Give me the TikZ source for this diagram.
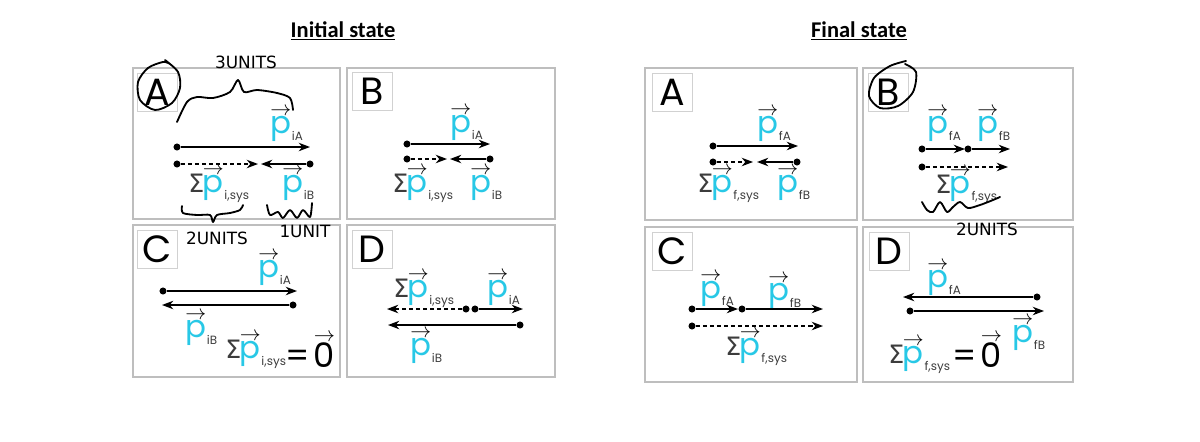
\documentclass[tikz,border=0pt]{standalone}
\usepackage{fontspec}
\usepackage{graphicx}
\usepackage{tikz}
\usetikzlibrary{arrows.meta,positioning}
\setmainfont{Poppins}
\newfontfamily\sigmafont{DejaVu Sans}
\newfontfamily\titlefont{Carlito}
\definecolor{pcyan}{RGB}{40,200,230}
\definecolor{framegray}{RGB}{190,190,190}
\definecolor{subgray}{RGB}{60,60,60}
\newsavebox\vecbox
\newcommand{\vecover}[1]{\sbox\vecbox{#1}\rlap{\raisebox{\dimexpr\ht\vecbox+0.5pt\relax}{\resizebox{\wd\vecbox}{!}{$\rightarrow$}}}\usebox\vecbox}
\newcommand{\pv}[1]{\vecover{\color{pcyan}p}\kern0.5pt\raisebox{-5pt}{\fontsize{8.5}{8.5}\selectfont\color{subgray}#1}}
\newcommand{\sm}{{\sigmafont\fontsize{18}{18}\selectfont\color{subgray}Σ}\kern-1pt}

\begin{document}
\begin{tikzpicture}[x=0.025cm,y=-0.025cm,
  panel/.style={draw=framegray,line width=0.9pt},
  tag/.style={draw=framegray!70,line width=0.7pt,minimum width=1cm,minimum height=0.95cm,inner sep=0,font=\fontsize{27}{27}\selectfont},
  dot/.style={circle,fill=black,inner sep=0,minimum size=5pt},
  vec/.style={line width=1.1pt,-{Stealth[length=8pt,width=6pt,inset=2.5pt]}},
  sumvec/.style={vec,densely dashed},
  lab/.style={anchor=base west,inner sep=0,font=\fontsize{22}{22}\selectfont},
  zero/.style={anchor=base west,inner sep=0,font=\fontsize{24}{24}\selectfont},
  hand/.style={line width=1.3pt,line cap=round,line join=round},
  handtext/.style={inner sep=0,font=\sigmafont\fontsize{12}{12}\selectfont},
  title/.style={font=\titlefont\bfseries\fontsize{16}{16}\selectfont}
]
\useasboundingbox (0,0) rectangle (1200,441);

\node[title] (init title) at (343,31) {\underline{Initial state}};
\node[title] (final title) at (859,31) {\underline{Final state}};

% initial state
\draw[panel] (133,68) rectangle (340,219);
\draw[panel] (347,68) rectangle (555,219);
\draw[panel] (133,225) rectangle (340,377);
\draw[panel] (347,225) rectangle (555,377);

% A
\node[tag] (iA tag) at (157,92) {A};
\node[dot] (iA dot1) at (177,147) {};
\coordinate (iA tip1) at (310,147);
\node[dot] (iA dot2) at (177,164) {};
\coordinate (iA tip2) at (258,164);
\node[dot] (iA dot3) at (310,164) {};
\coordinate (iA tip3) at (261,164);
\draw[vec] (iA dot1) -- (iA tip1);
\draw[sumvec] (iA dot2) -- (iA tip2);
\draw[vec] (iA dot3) -- (iA tip3);
\node[lab] (iA pA) at (270,133) {\pv{iA}};
\node[lab] (iA sum) at (188,192) {\sm\pv{i,sys}};
\node[lab] (iA pB) at (282,192) {\pv{iB}};

% B
\node[tag] (iB tag) at (372,91) {B};
\node[dot] (iB dot1) at (407,144) {};
\coordinate (iB tip1) at (490,144);
\node[dot] (iB dot2) at (407,159) {};
\coordinate (iB tip2) at (447,159);
\node[dot] (iB dot3) at (490,159) {};
\coordinate (iB tip3) at (450,159);
\draw[vec] (iB dot1) -- (iB tip1);
\draw[sumvec] (iB dot2) -- (iB tip2);
\draw[vec] (iB dot3) -- (iB tip3);
\node[lab] (iB pA) at (450,132) {\pv{iA}};
\node[lab] (iB sum) at (392,192) {\sm\pv{i,sys}};
\node[lab] (iB pB) at (470,192) {\pv{iB}};

% C
\node[tag] (iC tag) at (157,249) {C};
\node[dot] (iC dot1) at (163,291) {};
\coordinate (iC tip1) at (297,291);
\node[dot] (iC dot2) at (293,305) {};
\coordinate (iC tip2) at (162,305);
\draw[vec] (iC dot1) -- (iC tip1);
\draw[vec] (iC dot2) -- (iC tip2);
\node[lab] (iC pA) at (258,277) {\pv{iA}};
\node[lab] (iC pB) at (185,337) {\pv{iB}};
\node[lab] (iC sum) at (225,358) {\sm\pv{i,sys}};
\node[zero] (iC zero) at (285,367) {=\kern3pt\vecover{0}};

% D
\node[tag] (iD tag) at (372,249) {D};
\node[dot] (iD dot1) at (466,309) {};
\coordinate (iD tip1) at (387,309);
\node[dot] (iD dot2) at (475,309) {};
\coordinate (iD tip2) at (523,309);
\node[dot] (iD dot3) at (520,325) {};
\coordinate (iD tip3) at (388,325);
\draw[sumvec] (iD dot1) -- (iD tip1);
\draw[vec] (iD dot2) -- (iD tip2);
\draw[vec] (iD dot3) -- (iD tip3);
\node[lab] (iD sum) at (393,297) {\sm\pv{i,sys}};
\node[lab] (iD pA) at (487,297) {\pv{iA}};
\node[lab] (iD pB) at (410,355) {\pv{iB}};

% final state
\draw[panel] (645,68) rectangle (857,220);
\draw[panel] (863,68) rectangle (1073,220);
\draw[panel] (645,227) rectangle (857,382);
\draw[panel] (863,227) rectangle (1073,382);

% A
\node[tag] (fA tag) at (672,92) {A};
\node[dot] (fA dot1) at (713,146) {};
\coordinate (fA tip1) at (798,146);
\node[dot] (fA dot2) at (713,162) {};
\coordinate (fA tip2) at (753,162);
\node[dot] (fA dot3) at (797,162) {};
\coordinate (fA tip3) at (757,162);
\draw[vec] (fA dot1) -- (fA tip1);
\draw[sumvec] (fA dot2) -- (fA tip2);
\draw[vec] (fA dot3) -- (fA tip3);
\node[lab] (fA pA) at (757,133) {\pv{fA}};
\node[lab] (fA sum) at (697,192) {\sm\pv{f,sys}};
\node[lab] (fA pB) at (777,192) {\pv{fB}};

% B
\node[tag] (fB tag) at (888,92) {B};
\node[dot] (fB dot1) at (922,149) {};
\coordinate (fB tip1) at (965,149);
\node[dot] (fB dot2) at (968,149) {};
\coordinate (fB tip2) at (1010,149);
\node[dot] (fB dot3) at (922,167) {};
\coordinate (fB tip3) at (1008,167);
\draw[vec] (fB dot1) -- (fB tip1);
\draw[vec] (fB dot2) -- (fB tip2);
\draw[sumvec] (fB dot3) -- (fB tip3);
\node[lab] (fB pA) at (927,133) {\pv{fA}};
\node[lab] (fB pB) at (977,133) {\pv{fB}};
\node[lab] (fB sum) at (935,193) {\sm\pv{f,sys}};

% C
\node[tag] (fC tag) at (672,251) {C};
\node[dot] (fC dot1) at (692,309) {};
\coordinate (fC tip1) at (738,309);
\node[dot] (fC dot2) at (742,309) {};
\coordinate (fC tip2) at (823,309);
\node[dot] (fC dot3) at (692,326) {};
\coordinate (fC tip3) at (823,326);
\draw[vec] (fC dot1) -- (fC tip1);
\draw[vec] (fC dot2) -- (fC tip2);
\draw[sumvec] (fC dot3) -- (fC tip3);
\node[lab] (fC pA) at (700,298) {\pv{fA}};
\node[lab] (fC pB) at (768,300) {\pv{fB}};
\node[lab] (fC sum) at (725,355) {\sm\pv{f,sys}};

% D
\node[tag] (fD tag) at (889,251) {D};
\node[dot] (fD dot1) at (1037,297) {};
\coordinate (fD tip1) at (903,297);
\node[dot] (fD dot2) at (910,311) {};
\coordinate (fD tip2) at (1044,311);
\draw[vec] (fD dot1) -- (fD tip1);
\draw[vec] (fD dot2) -- (fD tip2);
\node[lab] (fD pA) at (927,287) {\pv{fA}};
\node[lab] (fD pB) at (1012,342) {\pv{fB}};
\node[lab] (fD sum) at (888,363) {\sm\pv{f,sys}};
\node[zero] (fD zero) at (952,367) {=\kern3pt\vecover{0}};

% handwritten notes
\draw[hand] plot[smooth] coordinates {(165,60) (178,72) (180,88) (172,103) (155,110) (140,100) (138,82) (148,68) (163,62) (170,64)};
\draw[hand] plot[smooth] coordinates {(177,122) (187,102) (197,97) (213,98) (230,92) (238,80) (244,92) (257,90) (277,93) (290,98) (293,110)};
\draw[hand] plot[smooth] coordinates {(182,206) (183,213) (197,215) (210,215) (213,222) (217,215) (230,213) (240,210) (243,205)};
\draw[hand] plot[smooth] coordinates {(267,205) (270,215) (278,212) (283,218) (290,210) (297,218) (303,210) (310,217) (312,203)};
\node[handtext] (three units) at (246,62) {3UNITS};
\node[handtext] (two units i) at (217,238) {2UNITS};
\node[handtext] (one unit) at (305,231) {1UNIT};

\draw[hand] plot[smooth] coordinates {(905,64) (916,72) (913,92) (898,106) (880,108) (869,96) (874,78) (890,66) (906,61)};
\draw[hand] plot[smooth] coordinates {(922,202) (927,210) (933,212) (940,202) (947,212) (953,207) (960,202) (968,208) (980,205) (993,200) (1000,197)};
\node[handtext] (two units f) at (987,229) {2UNITS};

\end{tikzpicture}
\end{document}
